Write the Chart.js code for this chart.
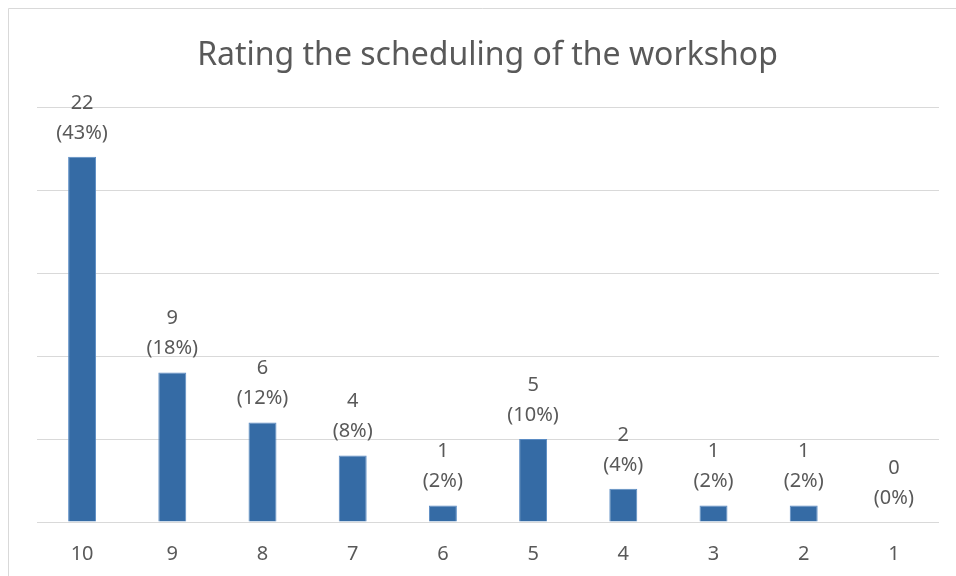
<!DOCTYPE html>
<html>
<head>
<meta charset="utf-8">
<script src="https://cdn.jsdelivr.net/npm/chart.js@4"></script>
<style>
html,body{margin:0;padding:0;background:#fff;}
#wrap{position:relative;width:956px;height:576px;}
</style>
</head>
<body>
<div id="wrap"><canvas id="c" width="956" height="576"></canvas></div>
<script>
const categories = ['10','9','8','7','6','5','4','3','2','1'];
const counts = [22, 9, 6, 4, 1, 5, 2, 1, 1, 0];
const percentLabels = ['(43%)','(18%)','(12%)','(8%)','(2%)','(10%)','(4%)','(2%)','(2%)','(0%)'];
const titleText = 'Rating the scheduling of the workshop';

const FONT = '"Noto Sans", "Open Sans", sans-serif';
const TEXT = '#595959';

const frame = {
  id: 'frame',
  beforeDraw(chart) {
    const ctx = chart.ctx;
    ctx.save();
    ctx.fillStyle = '#fff';
    ctx.fillRect(0, 0, chart.width, chart.height);
    ctx.strokeStyle = '#d9d9d9';
    ctx.lineWidth = 1;
    ctx.beginPath();
    ctx.moveTo(8.5, chart.height);
    ctx.lineTo(8.5, 8.5);
    ctx.lineTo(chart.width, 8.5);
    ctx.stroke();
    ctx.restore();
  }
};

const valueLabels = {
  id: 'valueLabels',
  afterDatasetsDraw(chart) {
    const ctx = chart.ctx;
    const meta = chart.getDatasetMeta(0);
    ctx.save();
    ctx.font = '20px ' + FONT;
    ctx.fillStyle = TEXT;
    ctx.textAlign = 'center';
    ctx.textBaseline = 'middle';
    meta.data.forEach((bar, i) => {
      ctx.fillText(String(counts[i]), bar.x, bar.y - 54);
      ctx.fillText(percentLabels[i], bar.x, bar.y - 24);
    });
    ctx.restore();
  }
};

new Chart(document.getElementById('c'), {
  type: 'bar',
  data: {
    labels: categories,
    datasets: [{
      data: counts,
      backgroundColor: '#356ba5',
      borderColor: '#5b8cc4',
      borderWidth: 1,
      categoryPercentage: 1,
      barPercentage: 0.31
    }]
  },
  options: {
    responsive: false,
    animation: false,
    devicePixelRatio: 1,
    layout: { padding: { left: 36, right: 17, top: 0, bottom: 0 } },
    plugins: {
      legend: { display: false },
      tooltip: { enabled: false },
      title: {
        display: true,
        text: titleText,
        color: TEXT,
        font: { family: FONT, size: 32, weight: 'normal' },
        padding: { top: 37, bottom: 31.6 }
      }
    },
    scales: {
      x: {
        grid: { display: false, drawTicks: false },
        border: { display: false },
        ticks: { color: TEXT, font: { family: FONT, size: 20 }, padding: 20 },
        afterFit(s) { s.height = 54; }
      },
      y: {
        min: 0, max: 25,
        ticks: { display: false, stepSize: 5 },
        grid: { color: '#d9d9d9', lineWidth: 1, drawTicks: false },
        border: { display: false },
        afterFit(s) { s.width = 1; }
      }
    }
  },
  plugins: [frame, valueLabels]
});
</script>
</body>
</html>
